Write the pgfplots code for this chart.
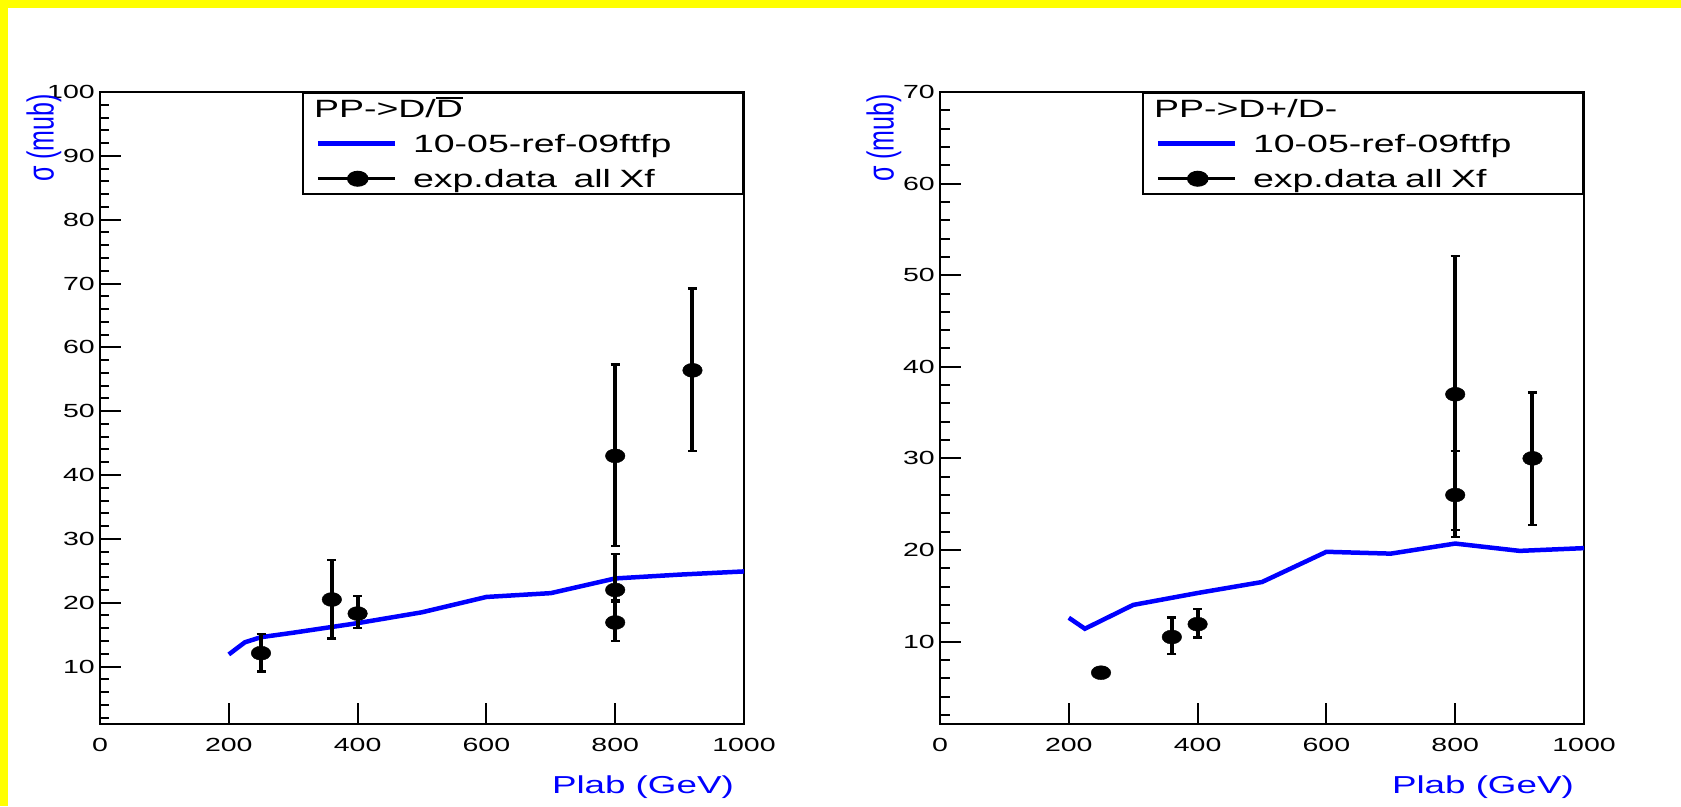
\documentclass[border=0pt]{standalone}
\usepackage{fontspec}
\setmainfont{Liberation Sans}[FakeStretch=1.5]
\newfontfamily\plainfont{Liberation Sans}
\usepackage{graphicx}
\usepackage{pgfplots}
\pgfplotsset{compat=1.18}
\definecolor{rootblue}{RGB}{0,0,255}
\definecolor{rootyellow}{RGB}{255,255,0}
\newcommand{\Dbar}{\vbox{\hrule height 1.8pt\kern 1.5pt\hbox{D}}}

\pgfplotsset{
  rootaxis/.style={
    scale only axis, width=644pt, height=632pt,
    anchor=south west,
    xmin=0, xmax=1000,
    axis line style={line width=2pt, black},
    tick align=inside, tick pos=left,
    major tick length=21pt, minor tick length=9.5pt,
    every tick/.style={black, line width=2pt},
    xtick={0,200,...,1000},
    /pgf/number format/assume math mode=true,
    /pgf/number format/1000 sep={},
    ticklabel style={font=\fontsize{19}{21}\selectfont},
    yticklabel style={inner sep=0pt, xshift=-5pt},
    xticklabel style={inner sep=0pt, yshift=-14pt},
    xlabel style={at={(axis description cs:1,0)}, anchor=base east, inner sep=0pt,
      xshift=-10pt, yshift=-69pt, text=rootblue, font=\fontsize{24.5}{28}\selectfont},
    legend cell align=left,
    legend style={at={(rel axis cs:1,1)}, anchor=north east, draw=black, line width=2pt,
      fill=white, inner xsep=13pt, inner ysep=2pt, row sep=7.5pt, column sep=16pt,
      nodes={font=\fontsize{25}{28}\selectfont, inner sep=0pt, text height=23pt,
        text depth=4.5pt, text width=317pt, align=left}},
  },
  modelline/.style={rootblue, line width=4.5pt, no marks,
    legend image code/.code={\draw[##1] (0pt,0pt) -- (77pt,0pt);}},
  expdata/.style={only marks, black, mark=*, mark size=7pt,
    mark options={xscale=1.4, fill=black, draw=black},
    error bars/.cd, y dir=both, y explicit,
    error bar style={line width=4pt, black},
    error mark options={black, line width=2.5pt, mark size=4.5pt, rotate=90},
    /pgfplots/.cd,
    legend image code/.code={\draw[black, line width=3pt] (0pt,0pt) -- (77pt,0pt);
      \draw[mark repeat=2, mark phase=2, ##1] plot coordinates {(0pt,0pt) (40pt,0pt) (77pt,0pt)};}},
}

\begin{document}
\begin{tikzpicture}
\path[use as bounding box, fill=white] (0pt,0pt) rectangle (1681pt,806pt);
\fill[rootyellow] (0pt,0pt) rectangle (8pt,806pt);
\fill[rootyellow] (0pt,798pt) rectangle (1681pt,806pt);

% ---------------- left panel ----------------
\begin{axis}[rootaxis, at={(100pt,82pt)},
  ymin=1, ymax=100,
  ytick={10,20,...,100}, minor ytick={2,4,...,100},
  xlabel={Plab (GeV)}]
\addlegendimage{empty legend}
\addlegendentry{\hspace*{-99pt}PP->D/\Dbar}
\addplot[modelline] coordinates {
  (200,11.9) (225,13.8) (250,14.6) (300,15.3) (400,16.8) (500,18.5)
  (600,20.9) (700,21.5) (800,23.8) (900,24.4) (1000,24.9)};
\addlegendentry{10-05-ref-09ftfp}
\addplot[expdata] coordinates {
  (250,12.1) += (0,3.0) -= (0,2.9)
  (360,20.5) += (0,6.2) -= (0,6.1)
  (400,18.3) += (0,2.75) -= (0,2.3)
  (800,43.0) += (0,14.3) -= (0,14.1)
  (800,22.0) += (0,5.6) -= (0,1.8)
  (800,16.9) += (0,3.5) -= (0,2.9)
  (920,56.4) += (0,12.8) -= (0,12.6)};
\addlegendentry{exp.data\ \ all Xf}
\end{axis}
\node[anchor=north, inner sep=0pt] at (44pt,712pt)
  {\scalebox{1.5}[1]{\rotatebox{90}{\fontsize{25}{30}\plainfont\color{rootblue}σ (mub)}}};

% ---------------- right panel ----------------
\begin{axis}[rootaxis, at={(940pt,82pt)},
  ymin=1, ymax=70,
  ytick={10,20,...,70}, minor ytick={2,4,...,70},
  xlabel={Plab (GeV)}]
\addlegendimage{empty legend}
\addlegendentry{\hspace*{-99pt}PP->D+/D-}
\addplot[modelline] coordinates {
  (200,12.6) (225,11.4) (300,14.0) (400,15.3) (500,16.5) (600,19.8)
  (650,19.7) (700,19.6) (800,20.7) (900,19.9) (1000,20.2)};
\addlegendentry{10-05-ref-09ftfp}
\addplot[expdata] coordinates {
  (250,6.6) += (0,0.3) -= (0,0.3)
  (360,10.5) += (0,2.15) -= (0,1.86)
  (400,11.9) += (0,1.65) -= (0,1.45)
  (800,37.0) += (0,15.1) -= (0,14.8)
  (800,26.0) += (0,4.8) -= (0,4.6)
  (920,30.0) += (0,7.2) -= (0,7.3)};
\addlegendentry{exp.data all Xf}
\end{axis}
\node[anchor=north, inner sep=0pt] at (884pt,712pt)
  {\scalebox{1.5}[1]{\rotatebox{90}{\fontsize{25}{30}\plainfont\color{rootblue}σ (mub)}}};
\end{tikzpicture}
\end{document}
